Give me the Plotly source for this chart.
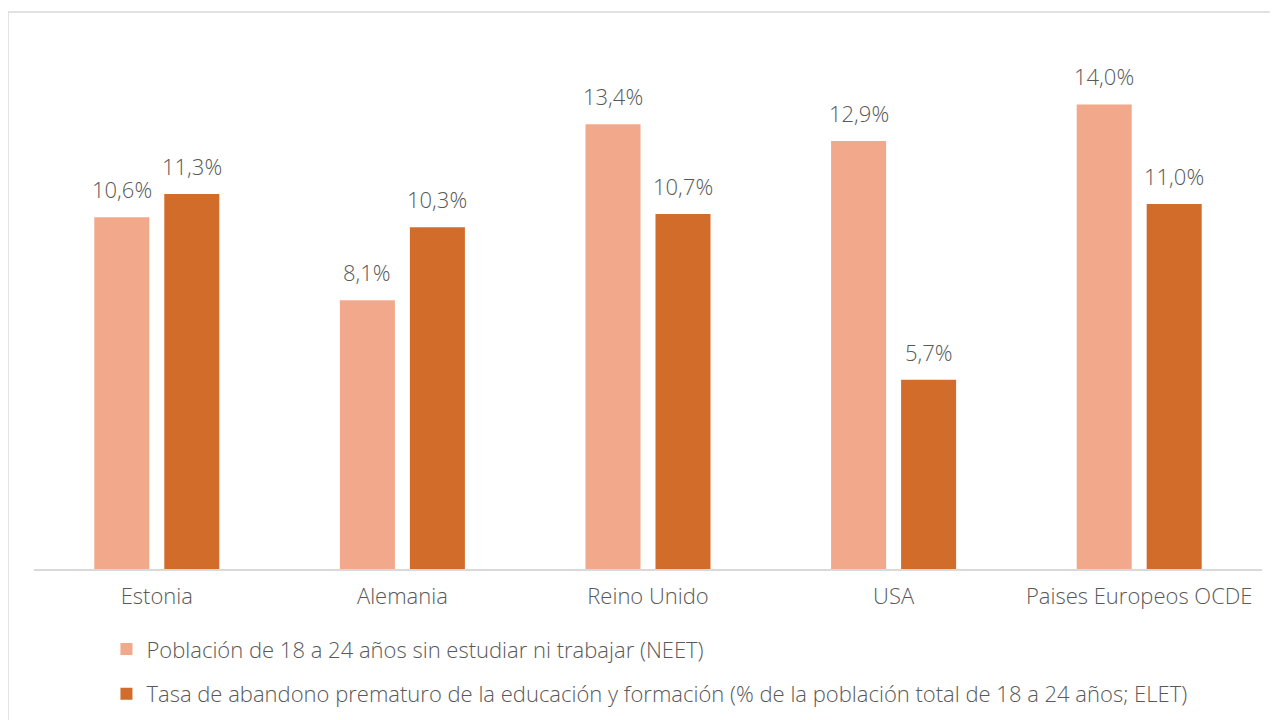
import plotly.graph_objects as go

categories = ["Estonia", "Alemania", "Reino Unido", "USA", "Paises Europeos OCDE"]
neet = [10.6, 8.1, 13.4, 12.9, 14.0]
elet = [11.3, 10.3, 10.7, 5.7, 11.0]
series_names = [
    "Población de 18 a 24 años sin estudiar ni trabajar (NEET)",
    "Tasa de abandono prematuro de la educación y formación (% de la población total de 18 a 24 años; ELET)",
]
colors = ["#F2A88A", "#D16C2A"]

FONT = "'Open Sans', Lato, sans-serif"
TXT = "#595959"
FS = 22
FW = 300

fig = go.Figure()
for i, (vals, name) in enumerate([(neet, series_names[0]), (elet, series_names[1])]):
    fig.add_trace(go.Bar(
        x=categories, y=vals, name=name, marker_color=colors[i],
        marker_line_width=0, legendgroup=f"g{i}",
    ))

def fmt(v):
    return f"{v:.1f}".replace(".", ",") + "%"

annotations = []
for i, vals in enumerate([neet, elet]):
    for c, v in zip(categories, vals):
        annotations.append(dict(
            x=c, y=v, xref="x", yref="y", text=fmt(v), showarrow=False,
            xshift=-35 if i == 0 else 35, yshift=11, yanchor="bottom",
            font=dict(family=FONT, size=FS, color=TXT, weight=FW),
        ))

fig.update_layout(
    width=1270, height=712,
    margin=dict(l=26, r=16, t=30, b=151, autoexpand=False),
    paper_bgcolor="white", plot_bgcolor="white",
    barmode="group", bargap=0.43, bargroupgap=0.214,
    font=dict(family=FONT, size=FS, color=TXT, weight=FW),
    showlegend=True,
    legend=dict(
        orientation="v", x=0.059, y=-0.1117, xanchor="left", yanchor="top",
        font=dict(family=FONT, size=FS, color=TXT, weight=FW),
        tracegroupgap=13, itemwidth=30,
    ),
    annotations=annotations,
    xaxis=dict(
        showline=True, linecolor="#D9D9D9", linewidth=1.5, ticks="",
        showgrid=False, ticklabelstandoff=7, automargin=False,
        tickfont=dict(family=FONT, size=FS, color=TXT, weight=FW),
    ),
    yaxis=dict(range=[0, 16], visible=False, showgrid=False, zeroline=False,
               automargin=False),
    shapes=[dict(
        type="rect", xref="paper", yref="paper",
        x0=-0.0212, x1=1.05, y0=-0.4, y1=1.049,
        line=dict(color="#D9D9D9", width=1.5), fillcolor="rgba(0,0,0,0)",
        layer="below",
    )],
)

fig.write_html("out.html")
